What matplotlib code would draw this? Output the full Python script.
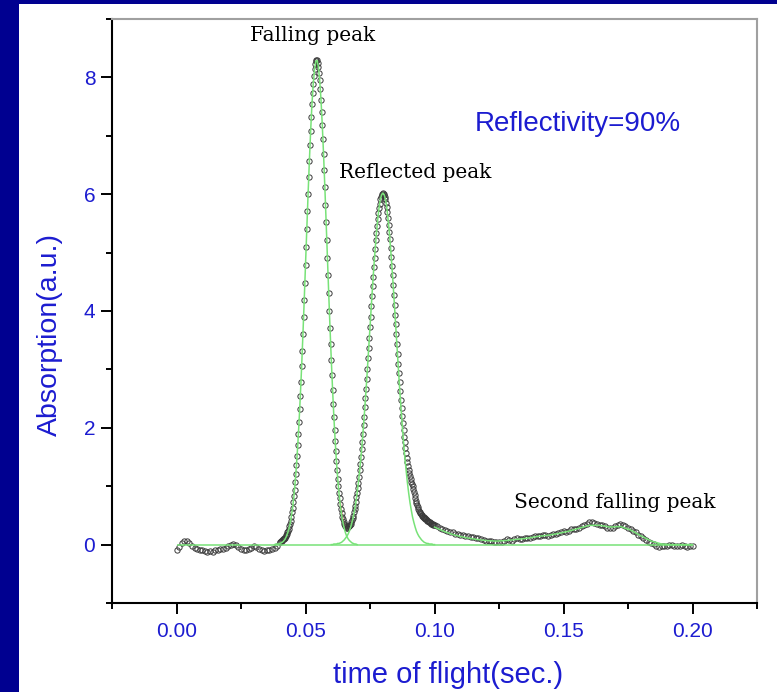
import numpy as np
import matplotlib
matplotlib.use("Agg")
import matplotlib.pyplot as plt
from matplotlib.patches import Rectangle
from matplotlib.ticker import MultipleLocator, FormatStrFormatter

# Measured absorption (open circles), read off the picture
# baseline before the falling peak, 0.000 .. 0.039 (step 0.001)
t_base = np.round(np.arange(0, 40) * 0.001, 4)
a_base = [-0.10, -0.04, 0.03, 0.07, 0.06, 0.02, -0.03, -0.06, -0.08, -0.09,
          -0.10, -0.11, -0.12, -0.11, -0.12, -0.10, -0.09, -0.08, -0.07, -0.05,
          -0.02, 0.00, 0.01, -0.01, -0.04, -0.07, -0.09, -0.10, -0.08, -0.05,
          -0.03, -0.04, -0.07, -0.10, -0.11, -0.10, -0.09, -0.07, -0.05, -0.02]

# the two peaks, 0.040 .. 0.09975 (step 0.00025)
t_peaks = np.round(0.040 + np.arange(240) * 0.00025, 5)
a_peaks = [0.04, 0.05, 0.06, 0.07, 0.08, 0.09, 0.10, 0.11, 0.12, 0.14,
           0.16, 0.18, 0.21, 0.24, 0.27, 0.31, 0.36, 0.41, 0.48, 0.55,
           0.63, 0.73, 0.83, 0.94, 1.07, 1.21, 1.36, 1.52, 1.70, 1.89,
           2.10, 2.32, 2.55, 2.79, 3.05, 3.32, 3.60, 3.89, 4.18, 4.48,
           4.79, 5.10, 5.40, 5.71, 6.00, 6.29, 6.57, 6.84, 7.09, 7.32,
           7.54, 7.73, 7.89, 8.03, 8.14, 8.23, 8.28, 8.30, 8.29, 8.25,
           8.18, 8.08, 7.95, 7.80, 7.62, 7.41, 7.19, 6.94, 6.68, 6.41,
           6.12, 5.82, 5.52, 5.22, 4.91, 4.61, 4.30, 4.00, 3.71, 3.43,
           3.16, 2.90, 2.65, 2.41, 2.18, 1.97, 1.78, 1.60, 1.43, 1.28,
           1.13, 1.00, 0.89, 0.79, 0.69, 0.61, 0.54, 0.48, 0.43, 0.38,
           0.35, 0.33, 0.31, 0.30, 0.29, 0.29, 0.30, 0.31, 0.32, 0.33,
           0.35, 0.38, 0.42, 0.45, 0.49, 0.55, 0.61, 0.66, 0.73, 0.81,
           0.88, 0.97, 1.06, 1.16, 1.27, 1.38, 1.50, 1.63, 1.76, 1.90,
           2.04, 2.19, 2.35, 2.51, 2.67, 2.84, 3.01, 3.19, 3.37, 3.54,
           3.72, 3.90, 4.08, 4.25, 4.43, 4.59, 4.76, 4.91, 5.06, 5.21,
           5.34, 5.46, 5.57, 5.68, 5.77, 5.84, 5.91, 5.96, 5.99, 6.01,
           6.02, 6.01, 5.99, 5.96, 5.91, 5.85, 5.78, 5.69, 5.59, 5.48,
           5.36, 5.23, 5.08, 4.93, 4.77, 4.61, 4.45, 4.28, 4.11, 3.94,
           3.77, 3.60, 3.43, 3.26, 3.10, 2.94, 2.78, 2.63, 2.48, 2.34,
           2.21, 2.08, 1.96, 1.85, 1.75, 1.65, 1.56, 1.48, 1.41, 1.34,
           1.28, 1.22, 1.17, 1.12, 1.08, 1.04, 1.00, 0.95, 0.90, 0.85,
           0.80, 0.75, 0.71, 0.67, 0.64, 0.61, 0.58, 0.56, 0.54, 0.52,
           0.50, 0.49, 0.48, 0.47, 0.46, 0.45, 0.44, 0.43, 0.42, 0.41,
           0.40, 0.39, 0.38, 0.38, 0.37, 0.36, 0.35, 0.35, 0.34, 0.33]

# tail and second falling peak, 0.100 .. 0.200 (step 0.001)
t_tail = np.round(0.100 + np.arange(101) * 0.001, 4)
a_tail = [0.33, 0.31, 0.29, 0.27, 0.25, 0.24, 0.22, 0.21, 0.19, 0.18,
          0.17, 0.16, 0.15, 0.14, 0.13, 0.13, 0.12, 0.11, 0.09, 0.08,
          0.07, 0.07, 0.06, 0.05, 0.05, 0.04, 0.05, 0.07, 0.09, 0.08,
          0.07, 0.09, 0.11, 0.10, 0.09, 0.11, 0.12, 0.11, 0.13, 0.15,
          0.14, 0.15, 0.17, 0.16, 0.15, 0.17, 0.18, 0.19, 0.20, 0.22,
          0.23, 0.22, 0.24, 0.26, 0.27, 0.26, 0.28, 0.31, 0.33, 0.36,
          0.38, 0.39, 0.37, 0.36, 0.34, 0.33, 0.31, 0.29, 0.28, 0.29,
          0.31, 0.33, 0.35, 0.33, 0.31, 0.29, 0.26, 0.24, 0.21, 0.17,
          0.14, 0.11, 0.08, 0.05, 0.03, 0.01, -0.02, -0.04, -0.03, -0.02,
          -0.03, -0.01, 0.00, -0.02, -0.03, -0.02, -0.01, -0.03, -0.04, -0.02,
          -0.03]

# fitted curves (green)
t_fit1 = np.round(0.038 + np.arange(65) * 0.0005, 4)
a_fit1 = [0.00, 0.01, 0.01, 0.01, 0.02, 0.03, 0.04, 0.06, 0.09, 0.13,
          0.19, 0.26, 0.35, 0.48, 0.63, 0.83, 1.07, 1.36, 1.70, 2.10,
          2.55, 3.05, 3.60, 4.18, 4.79, 5.40, 6.00, 6.57, 7.09, 7.54,
          7.89, 8.14, 8.28, 8.29, 8.18, 7.95, 7.62, 7.19, 6.68, 6.12,
          5.52, 4.91, 4.30, 3.71, 3.16, 2.65, 2.18, 1.78, 1.42, 1.12,
          0.87, 0.67, 0.51, 0.38, 0.28, 0.20, 0.14, 0.10, 0.07, 0.05,
          0.03, 0.02, 0.01, 0.01, 0.00]

t_fit2 = np.round(0.060 + np.arange(81) * 0.0005, 4)
a_fit2 = [0.00, 0.00, 0.01, 0.01, 0.01, 0.02, 0.02, 0.03, 0.04, 0.06,
          0.08, 0.11, 0.14, 0.18, 0.23, 0.30, 0.38, 0.47, 0.59, 0.72,
          0.88, 1.06, 1.27, 1.50, 1.76, 2.04, 2.35, 2.67, 3.01, 3.37,
          3.72, 4.08, 4.43, 4.76, 5.06, 5.34, 5.57, 5.77, 5.91, 5.99,
          6.02, 5.99, 5.91, 5.77, 5.57, 5.34, 5.06, 4.76, 4.43, 4.08,
          3.72, 3.37, 3.01, 2.67, 2.35, 2.04, 1.76, 1.50, 1.27, 1.06,
          0.88, 0.72, 0.59, 0.47, 0.38, 0.30, 0.23, 0.18, 0.14, 0.11,
          0.08, 0.06, 0.04, 0.03, 0.02, 0.02, 0.01, 0.01, 0.01, 0.00,
          0.00]

t_fit3 = np.round(0.100 + np.arange(26) * 0.004, 4)
a_fit3 = [0.30, 0.22, 0.16, 0.12, 0.09, 0.07, 0.06, 0.07, 0.09, 0.11,
          0.14, 0.16, 0.19, 0.23, 0.28, 0.33, 0.33, 0.30, 0.31, 0.25,
          0.15, 0.06, 0.01, 0.00, 0.00, 0.00]

# cumulative fit near the valley (pink)
t_sum = np.round(0.0635 + np.arange(10) * 0.0005, 4)
a_sum = [0.71, 0.55, 0.44, 0.36, 0.31, 0.28, 0.28, 0.30, 0.35, 0.41]

labels = [("Falling peak", 0.0527, 8.72),
          ("Reflected peak", 0.0925, 6.38),
          ("Second falling peak", 0.170, 0.72)]

blue = '#1c1cd0'
green = '#78e278'

plt.rcParams['font.family'] = ['Liberation Sans', 'DejaVu Sans']

fig = plt.figure(figsize=(7.77, 6.92), dpi=100)
fig.patch.set_facecolor('#000090')
# white slide area, kept behind the axes
fig.patches.append(Rectangle((19 / 777, 0), 1, 688 / 692, transform=fig.transFigure,
                             facecolor='white', edgecolor='none', zorder=-5))

ax = fig.add_axes([112 / 777, 89 / 692, 645 / 777, 584 / 692])
ax.set_facecolor('white')

# data and fits
t_all = np.concatenate([t_base, t_peaks, t_tail])
a_all = np.concatenate([a_base, a_peaks, a_tail])
ax.plot(t_all, a_all, 'o', ms=3.8, mfc='none', mec='#3a3a3a', mew=0.7, zorder=2)
ax.hlines(0, t_all[0], t_all[-1], color=green, lw=1.1, zorder=3)
ax.plot(t_sum, a_sum, color='#ff8c8c', lw=1.1, zorder=1)
ax.plot(t_fit1, a_fit1, color=green, lw=1.1, zorder=3)
ax.plot(t_fit2, a_fit2, color=green, lw=1.1, zorder=3)
ax.plot(t_fit3, a_fit3, color=green, lw=1.1, zorder=3)

for txt, x, y in labels:
    ax.text(x, y, txt, ha='center', va='center', fontsize=14.5,
            family='DejaVu Serif', color='black')
ax.text(0.1555, 7.2, "Reflectivity=90%", ha='center', va='center',
        fontsize=20, color=blue)

ax.set_xlim(-0.025, 0.225)
ax.set_ylim(-1, 9)
ax.xaxis.set_major_locator(MultipleLocator(0.05))
ax.xaxis.set_minor_locator(MultipleLocator(0.025))
ax.xaxis.set_major_formatter(FormatStrFormatter('%.2f'))
ax.yaxis.set_major_locator(MultipleLocator(2))
ax.yaxis.set_minor_locator(MultipleLocator(1))

ax.tick_params(which='both', direction='out', width=1.4, color='black',
               top=False, right=False)
ax.tick_params(which='major', length=8)
ax.tick_params(which='minor', length=4.5)
ax.tick_params(axis='x', labelsize=15, labelcolor=blue, pad=6)
ax.tick_params(axis='y', labelsize=15, labelcolor=blue, pad=4)

for s in ['left', 'bottom']:
    ax.spines[s].set_linewidth(1.5)
    ax.spines[s].set_color('black')
for s in ['top', 'right']:
    ax.spines[s].set_linewidth(1.5)
    ax.spines[s].set_color('#a0a0a0')

ax.set_xlabel("time of flight(sec.)", fontsize=21, color=blue)
ax.set_ylabel("Absorption(a.u.)", fontsize=20.5, color=blue)
ax.xaxis.set_label_coords(0.521, -0.1)
ax.yaxis.set_label_coords(-0.076, 0.46)

fig.savefig('out.png', dpi=100, facecolor=fig.get_facecolor())
